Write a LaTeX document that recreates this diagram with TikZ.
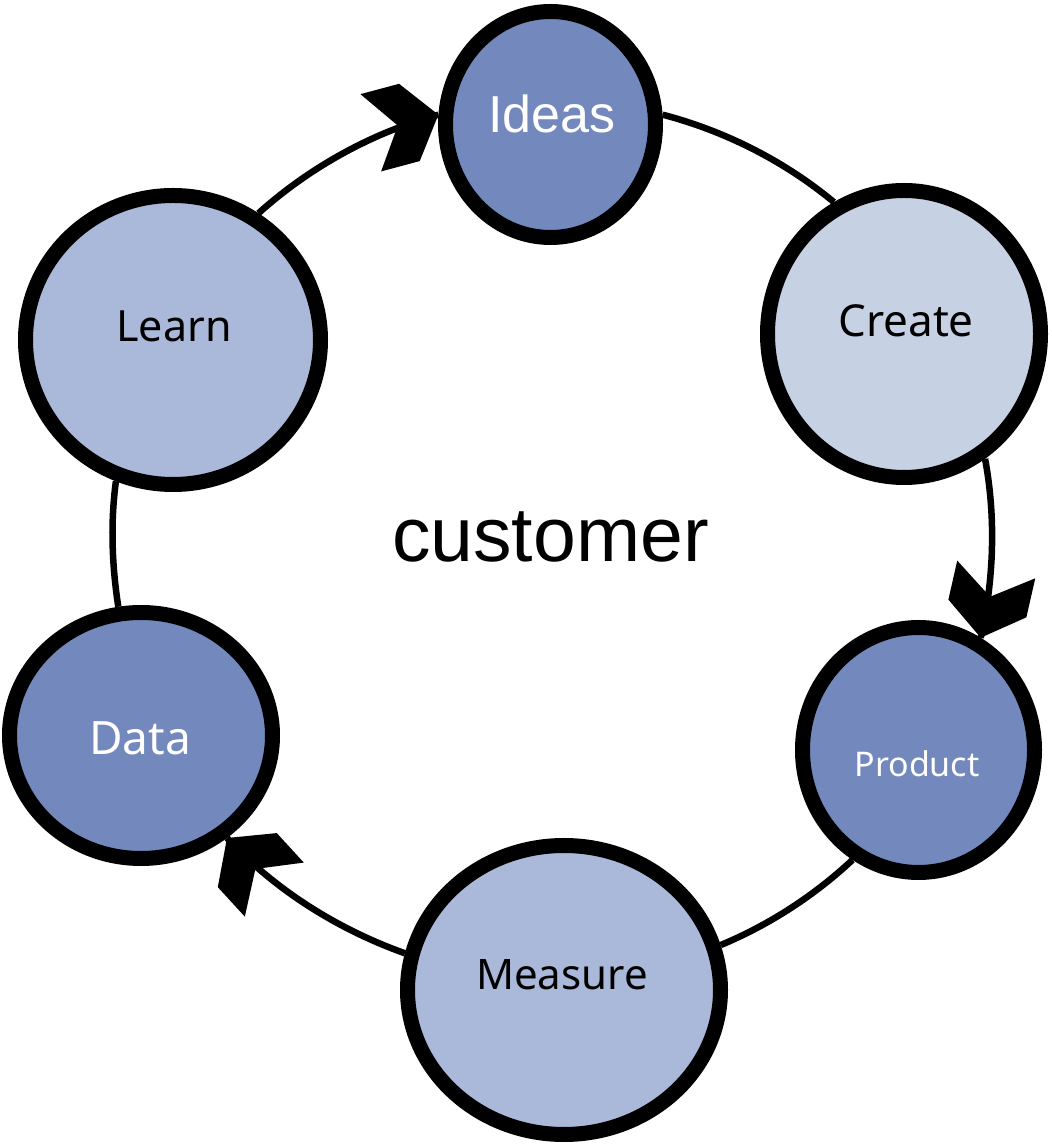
\documentclass[tikz,border=0pt]{standalone}
\usepackage{fontspec}
\setmainfont{Liberation Sans}
\newfontfamily\labelfont{Noto Sans}
\usetikzlibrary{shapes.geometric,backgrounds,decorations.markings}

\definecolor{stagedark}{HTML}{7389BD}
\definecolor{stagelight}{HTML}{C6D1E4}
\definecolor{stagemid}{HTML}{AAB9D9}

\tikzset{
  stage/.style={ellipse, draw=black, line width=15pt, inner sep=0pt},
  caption/.style={anchor=base, inner sep=0pt},
  link/.style={line width=6.5pt, looseness=0.85},
  % thick chevron head placed at the end of a link
  chevron/.style={postaction={decorate},
    decoration={markings, mark=at position 1 with {
      \fill (0,0) -- (-30,40) -- (-70,40) -- (-42,0) -- (-70,-40) -- (-30,-40) -- cycle;}}}
}

\begin{document}
\begin{tikzpicture}[x=1pt, y=1pt]
  \useasboundingbox (0,0) rectangle (1052,1144);

  % cycle stages
  \node[stage, fill=stagedark,  minimum width=210pt, minimum height=226pt] (ideas)   at (550.5,1019.5) {};
  \node[stage, fill=stagelight, minimum width=273pt, minimum height=287pt] (create)  at (904,810) {};
  \node[stage, fill=stagedark,  minimum width=232pt, minimum height=245pt] (product) at (918.5,394) {};
  \node[stage, fill=stagemid,   minimum width=313pt, minimum height=289pt] (measure) at (564,154) {};
  \node[stage, fill=stagedark,  minimum width=263pt, minimum height=246pt] (data)    at (141,408.5) {};
  \node[stage, fill=stagemid,   minimum width=295pt, minimum height=289pt] (learn)   at (173,804) {};

  % stage captions
  \node[caption, text=white, font=\fontsize{52}{52}\selectfont] (ideas-t) at (552,1011) {Ideas};
  \node[caption, font=\labelfont\fontsize{44}{44}\selectfont] (create-t) at (906,807) {Create};
  \node[caption, text=white, font=\labelfont\fontsize{34}{34}\selectfont] (product-t) at (917,367) {Product};
  \node[caption, font=\labelfont\fontsize{42}{42}\selectfont] (measure-t) at (562,154) {Measure};
  \node[caption, text=white, font=\labelfont\fontsize{46}{46}\selectfont] (data-t) at (140,389) {Data};
  \node[caption, font=\labelfont\fontsize{43}{43}\selectfont] (learn-t) at (174,802) {Learn};

  % centre word
  \node[caption, font=\fontsize{77}{77}\selectfont] (cust) at (550.5,582) {customer};

  % links along the ring, behind the stages
  \begin{scope}[on background layer]
    \fill[white] (0,0) rectangle (1052,1144);
    \draw[link, chevron] (learn.56)   to[out=42,   in=195]   (ideas.175);
    \draw[link]          (ideas.5)    to[out=-14.6, in=140.2] (create.118);
    \draw[link, chevron] (create.303) to[out=-79.4, in=77.2]  (product.61);
    \draw[link]          (product.239) to[out=-136.8, in=22.6] (measure.16);
    \draw[link, chevron] (measure.167) to[out=160.4, in=-47.5] (data.310);
    \draw[link]          (data.100)   to[out=98.8, in=262.3]  (learn.248);
  \end{scope}
\end{tikzpicture}
\end{document}
